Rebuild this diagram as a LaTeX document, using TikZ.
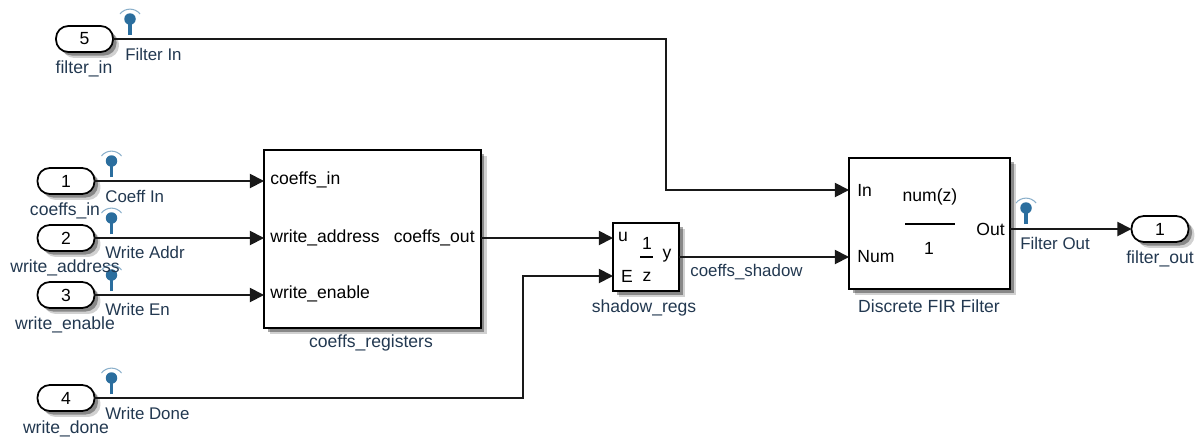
\documentclass[tikz,border=0pt]{standalone}
\usepackage{fontspec}
\usepackage{xcolor}
\usepackage{tikz}
\usetikzlibrary{arrows.meta,shadows}
\setmainfont{Liberation Sans}
\definecolor{probeblue}{HTML}{2B6E9E}
\definecolor{signame}{HTML}{223850}

\begin{document}
\begin{tikzpicture}[
    x=0.02cm, y=-0.02cm,
    sig/.style={-{Triangle[length=8pt,width=8pt]}, line width=1pt, black!90},
    softshadow/.style={
      drop shadow={shadow xshift=3.4pt, shadow yshift=-3.4pt, opacity=0.18, fill=black},
      drop shadow={shadow xshift=2pt, shadow yshift=-2pt, opacity=0.35, fill=black}},
    port/.style={draw, fill=white, line width=1pt, rounded corners=7pt, minimum width=1.14cm,
                 minimum height=0.52cm, inner sep=0pt, outer sep=0pt, font=\fontsize{10}{11}\selectfont, softshadow},
    block/.style={draw, fill=white, line width=1pt, inner sep=0pt, outer sep=0pt, softshadow},
    lbl/.style={font=\fontsize{10}{11}\selectfont, inner sep=0pt},
    namelbl/.style={lbl, text=signame},
    siglbl/.style={font=\fontsize{9.6}{11}\selectfont, inner sep=0pt, text=signame},
    probe/.pic={
      \draw[probeblue, line width=1.8pt] (0,0) -- (0,-14);
      \fill[probeblue] (0,-16) circle (0.115cm);
      \draw[probeblue!55, line width=0.6pt] (-10,-21) .. controls (-5,-27.5) and (5,-27.5) .. (10,-21);
    }
  ]
  \useasboundingbox (0,0) rectangle (1203,440);

  % ══ BLOCKS ════════════════════════════════════════════════════════════════
  \node[block, minimum width=4.34cm, minimum height=3.56cm] (regs) at (372.5,239) {};
  \node[block, minimum width=1.32cm, minimum height=1.36cm] (shadow) at (646,257) {};
  \node[block, minimum width=3.22cm, minimum height=2.62cm] (fir) at (929.5,223.5) {};

  % ports on the left
  \node[port] (portfive) at (84.5,39) {5};
  \node[port] (portone) at (66,181) {1};
  \node[port] (porttwo) at (66,238) {2};
  \node[port] (portthree) at (66,295) {3};
  \node[port] (portfour) at (66,398) {4};
  % port on the right
  \node[port] (portout) at (1160,229) {1};

  % ══ TEXT INSIDE BLOCKS ════════════════════════════════════════════════════
  \node[lbl, anchor=west] (regsa) at (270,180) {coeffs\_in};
  \node[lbl, anchor=west] (regsb) at (270,238) {write\_address};
  \node[lbl, anchor=west] (regsc) at (270,294) {write\_enable};
  \node[lbl, anchor=east] (regsd) at (475,238) {coeffs\_out};

  \node[lbl] (shadowu) at (623,237) {u};
  \node[lbl] (shadowe) at (627,276) {E};
  \node[lbl] (shadowy) at (667,256) {y};
  \node[lbl] (shadowone) at (647,243) {1};
  \node[lbl] (shadowz) at (647,277) {z};
  \draw[line width=0.7pt] (640,257) -- (653,257);

  \node[lbl, anchor=west] (firin) at (857,190) {In};
  \node[lbl, anchor=west] (firnum) at (857,257) {Num};
  \node[lbl, anchor=east] (firout) at (1005,229) {Out};
  \node[lbl] (firtop) at (930,197) {num(z)};
  \node[lbl] (firone) at (929,248) {1};
  \draw[line width=0.7pt] (905,224) -- (955,224);

  % ══ CONNECTORS ════════════════════════════════════════════════════════════
  \coordinate (bendfive) at (666,39);
  \coordinate (bendfour) at (523,398);
  \draw[sig] (portfive.east) -- (bendfive) -- (bendfive |- firin) -- (fir.west |- firin);
  \draw[sig] (portone.east) -- (portone -| regs.west);
  \draw[sig] (porttwo.east) -- (porttwo -| regs.west);
  \draw[sig] (portthree.east) -- (portthree -| regs.west);
  \draw[sig] (regs.east |- regsd) -- (shadow.west |- regsd);
  \draw[sig] (portfour.east) -- (bendfour) -- (bendfour |- shadowe) -- (shadow.west |- shadowe);
  \draw[sig] (shadow.east) -- (shadow.east -| fir.west);
  \draw[sig] (fir.east |- portout) -- (portout.west);

  % ══ PROBES ════════════════════════════════════════════════════════════════
  \pic at (130,35) {probe};
  \pic at (111.5,177) {probe};
  \pic at (111.5,234) {probe};
  \pic at (111.5,291) {probe};
  \pic at (111.5,394) {probe};
  \pic at (1026,224) {probe};

  % ══ NAMES ═════════════════════════════════════════════════════════════════
  \node[namelbl] (namefive) at (84,69) {filter\_in};
  \node[namelbl] (nameone) at (65,211) {coeffs\_in};
  \node[namelbl] (nametwo) at (65,268) {write\_address};
  \node[namelbl] (namethree) at (65,325) {write\_enable};
  \node[namelbl] (namefour) at (66,429) {write\_done};
  \node[namelbl] (nameout) at (1160,259) {filter\_out};
  \node[namelbl] (nameregs) at (371,343) {coeffs\_registers};
  \node[namelbl] (nameshadow) at (644,308) {shadow\_regs};
  \node[namelbl] (namefir) at (929,306) {Discrete FIR Filter};

  % signal labels
  \node[siglbl, anchor=west] (sigfive) at (125,54) {Filter In};
  \node[siglbl, anchor=west] (sigone) at (105,196) {Coeff In};
  \node[siglbl, anchor=west] (sigtwo) at (105,252) {Write Addr};
  \node[siglbl, anchor=west] (sigthree) at (105,309) {Write En};
  \node[siglbl, anchor=west] (sigfour) at (105,413) {Write Done};
  \node[siglbl, anchor=west] (sigshadow) at (690,272) {coeffs\_shadow};
  \node[siglbl, anchor=west] (sigout) at (1020,243) {Filter Out};

\end{tikzpicture}
\end{document}
